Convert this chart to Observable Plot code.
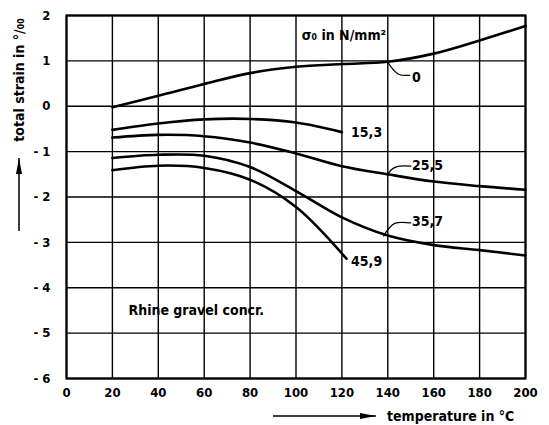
<!DOCTYPE html>
<html>
<head>
<meta charset="utf-8">
<script src="https://cdn.jsdelivr.net/npm/d3@7"></script>
<script src="https://cdn.jsdelivr.net/npm/@observablehq/plot@0.6"></script>
<style>
  html, body { margin: 0; padding: 0; background: #fff; }
  #chart svg { display: block; }
</style>
</head>
<body>
<div id="chart"></div>
<script>
// ---- data ----
const xTicks = [0, 20, 40, 60, 80, 100, 120, 140, 160, 180, 200];
const yTicks = [2, 1, 0, -1, -2, -3, -4, -5, -6];

const temp0  = [20, 40, 60, 80, 100, 120, 140, 160, 180, 200];
const strain0 = [-0.02, 0.23, 0.49, 0.73, 0.87, 0.93, 0.98, 1.16, 1.45, 1.77];

const temp15  = [20, 40, 60, 80, 100, 120];
const strain15 = [-0.52, -0.38, -0.29, -0.28, -0.36, -0.57];

const temp25  = [20, 40, 60, 80, 100, 120, 140, 160, 180, 200];
const strain25 = [-0.69, -0.63, -0.66, -0.8, -1.04, -1.32, -1.5, -1.66, -1.76, -1.84];

const temp35  = [20, 40, 60, 80, 100, 120, 140, 160, 180, 200];
const strain35 = [-1.14, -1.07, -1.09, -1.34, -1.87, -2.45, -2.85, -3.06, -3.17, -3.29];

const temp45  = [20, 40, 60, 80, 100, 122];
const strain45 = [-1.41, -1.31, -1.36, -1.62, -2.22, -3.36];

const seriesNames = ["0", "15,3", "25,5", "35,7", "45,9"];
const labelX = [150.5, 124, 150.5, 150.5, 124];
const labelY = [0.64, -0.57, -1.3, -2.55, -3.42];

// leader lines for some labels (x, y triples)
const leader0  = {x: [140, 142.5, 145, 149.5], y: [0.97, 0.8, 0.7, 0.68]};
const leader25 = {x: [139.8, 141.5, 144, 150],  y: [-1.52, -1.4, -1.33, -1.32]};
const leader35 = {x: [138.2, 140, 143, 150],    y: [-2.86, -2.72, -2.58, -2.57]};

const legendTitle = "σ₀ in N/mm²";
const legendTitleX = 102.5, legendTitleY = 1.56;
const noteText = "Rhine gravel concr.";
const noteX = 27, noteY = -4.5;

const xLabel = "temperature in °C";
const yLabel = "total strain in °/₀₀";

// ---- build ----
const series = [
  [temp0, strain0], [temp15, strain15], [temp25, strain25], [temp35, strain35], [temp45, strain45]
];
const lineData = series.flatMap(([xs, ys], i) => xs.map((x, j) => ({x, y: ys[j], s: seriesNames[i]})));
const labels = seriesNames.map((name, i) => ({x: labelX[i], y: labelY[i], text: name}));
const leaders = [["0", leader0], ["25,5", leader25], ["35,7", leader35]]
  .flatMap(([s, l]) => l.x.map((x, j) => ({x, y: l.y[j], s})));

const FONT = "'DejaVu Sans Condensed', 'DejaVu Sans', sans-serif";

const plot = Plot.plot({
  width: 549,
  height: 425,
  marginLeft: 66,
  marginRight: 24,
  marginTop: 15,
  marginBottom: 47,
  style: {fontFamily: FONT, fontSize: "13px", fontWeight: "bold", color: "#000", background: "#fff"},
  x: {domain: [0, 200], ticks: xTicks, label: null},
  y: {domain: [-6, 2], ticks: yTicks, label: null},
  marks: [
    Plot.ruleX(xTicks, {stroke: "#000", strokeWidth: 1.4}),
    Plot.ruleY(yTicks, {stroke: "#000", strokeWidth: 1.4}),
    Plot.frame({stroke: "#000", strokeWidth: 2.2}),
    Plot.axisX({ticks: xTicks, tickSize: 0, tickPadding: 9, fontSize: 13, fontWeight: "bold", label: null}),
    Plot.axisY({ticks: yTicks, tickSize: 0, tickPadding: 16, fontSize: 13, fontWeight: "bold", label: null,
      tickFormat: d => d < 0 ? "- " + Math.abs(d) : String(d)}),
    Plot.line(lineData, {x: "x", y: "y", z: "s", curve: "catmull-rom", stroke: "#000", strokeWidth: 2.6}),
    Plot.line(leaders, {x: "x", y: "y", z: "s", curve: "catmull-rom", stroke: "#000", strokeWidth: 1.3}),
    Plot.text(labels, {x: "x", y: "y", text: "text", textAnchor: "start", fontSize: 14, fontWeight: "bold", fill: "#000"}),
    Plot.text([legendTitle], {x: legendTitleX, y: legendTitleY, text: d => d, textAnchor: "start", fontSize: 14, fontWeight: "bold", fill: "#000"}),
    Plot.text([noteText], {x: noteX, y: noteY, text: d => d, textAnchor: "start", fontSize: 14, fontWeight: "bold", fill: "#000"})
  ]
});

document.getElementById("chart").appendChild(plot);

// axis titles with arrows
const svg = d3.select(plot);
const defs = svg.append("defs");
defs.append("marker").attr("id", "ah").attr("viewBox", "0 0 16 6")
  .attr("refX", 16).attr("refY", 3).attr("markerWidth", 16).attr("markerHeight", 6)
  .attr("markerUnits", "userSpaceOnUse").attr("orient", "auto")
  .append("path").attr("d", "M0,0 L16,3 L0,6 Z").attr("fill", "#000");

svg.append("line").attr("x1", 273).attr("y1", 416).attr("x2", 376).attr("y2", 416)
  .attr("stroke", "#000").attr("stroke-width", 1.5).attr("marker-end", "url(#ah)");
svg.append("text").attr("x", 387).attr("y", 421).attr("text-anchor", "start").attr("font-family", FONT)
  .attr("font-size", 14).attr("font-weight", "bold").attr("fill", "#000").text(xLabel);

svg.append("line").attr("x1", 19).attr("y1", 231).attr("x2", 19).attr("y2", 158)
  .attr("stroke", "#000").attr("stroke-width", 1.5).attr("marker-end", "url(#ah)");
svg.append("text").attr("transform", "translate(24,80) rotate(-90)").attr("text-anchor", "middle")
  .attr("font-family", FONT).attr("font-size", 14).attr("font-weight", "bold").attr("fill", "#000").text(yLabel);
</script>
</body>
</html>
